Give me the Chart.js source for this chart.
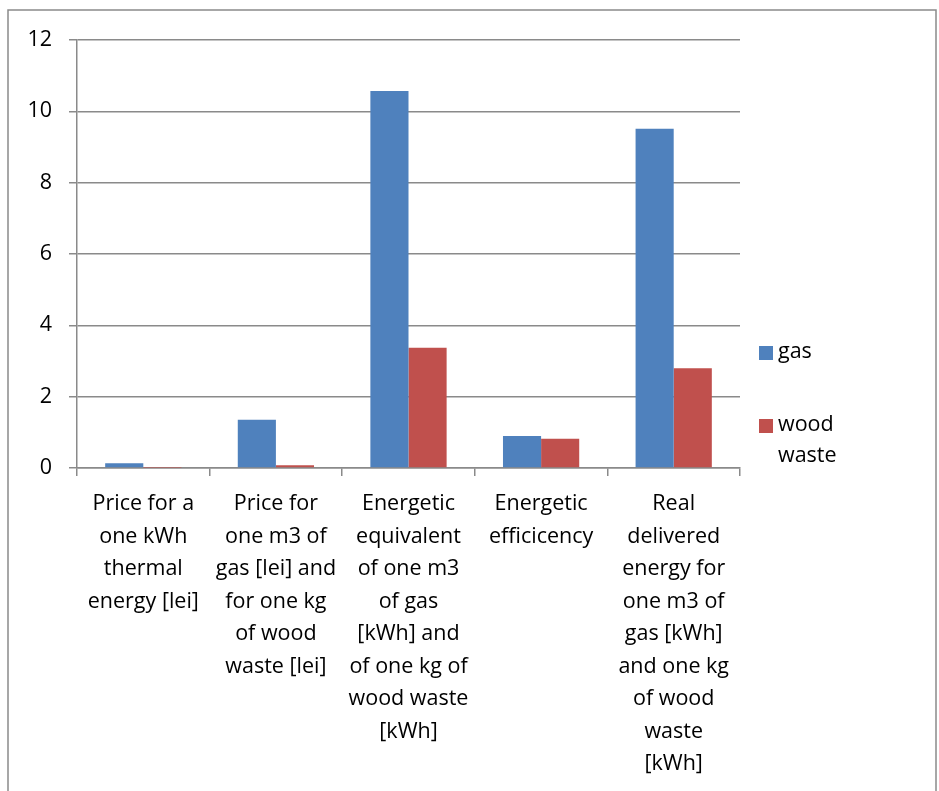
<!DOCTYPE html>
<html>
<head>
<meta charset="utf-8">
<script src="https://cdn.jsdelivr.net/npm/chart.js@4.4.0/dist/chart.umd.min.js"></script>
<style>
  html, body { margin: 0; padding: 0; background: #fff; }
  #wrap { width: 939px; height: 791px; position: relative; }
</style>
</head>
<body>
<div id="wrap"><canvas id="myChart" width="939" height="791"></canvas></div>
<script>
const categories = [
    ['Price for a', 'one kWh', 'thermal', 'energy [lei]'],
    ['Price for', 'one m3 of', 'gas [lei] and', 'for one kg', 'of wood', 'waste [lei]'],
    ['Energetic', 'equivalent', 'of one m3', 'of gas', '[kWh] and', 'of one kg of', 'wood waste', '[kWh]'],
    ['Energetic', 'efficicency'],
    ['Real', 'delivered', 'energy for', 'one m3 of', 'gas [kWh]', 'and one kg', 'of wood', 'waste', '[kWh]']
];
const gasValues = [0.13, 1.35, 10.57, 0.9, 9.51];
const woodValues = [0.01, 0.08, 3.37, 0.82, 2.8];
const yTicks = [0, 2, 4, 6, 8, 10, 12];

const FONT = "'Open Sans', sans-serif";
const FONT_SIZE = 21.5;
const gridColor = '#8a8a8a';

// frame + legend drawn by hand, like the original office chart
const framePlugin = {
    id: 'frame',
    afterDraw(chart) {
        const ctx = chart.ctx;
        const area = chart.chartArea;
        ctx.save();
        ctx.strokeStyle = '#8a8a8a';
        ctx.lineWidth = 1.5;
        ctx.strokeRect(8, 10, 928, 800);

        const items = [
            { color: '#4f81bd', lines: ['gas'], y: 352 },
            { color: '#c0504d', lines: ['wood', 'waste'], y: 425 }
        ];
        ctx.font = FONT_SIZE + 'px ' + FONT;
        ctx.textBaseline = 'middle';
        items.forEach((it) => {
            const x = area.right + 19;
            ctx.fillStyle = it.color;
            ctx.fillRect(x, it.y - 6, 14, 14);
            ctx.fillStyle = '#000';
            it.lines.forEach((t, i) => {
                ctx.fillText(t, x + 19, it.y + i * 31);
            });
        });
        ctx.restore();
    }
};

const ctx = document.getElementById('myChart').getContext('2d');
const myChart = new Chart(ctx, {
    type: 'bar',
    data: {
        labels: categories,
        datasets: [{
            label: 'gas',
            data: gasValues,
            backgroundColor: '#4f81bd',
            borderWidth: 0
        }, {
            label: 'wood waste',
            data: woodValues,
            backgroundColor: '#c0504d',
            borderWidth: 0
        }]
    },
    options: {
        responsive: false,
        animation: false,
        layout: {
            padding: { top: 40, right: 199, left: 0, bottom: 0 }
        },
        datasets: {
            bar: { categoryPercentage: 0.575, barPercentage: 1.0 }
        },
        plugins: {
            legend: { display: false },
            tooltip: { enabled: false }
        },
        scales: {
            x: {
                afterFit: (scale) => { scale.height = 323; },
                grid: {
                    drawOnChartArea: false,
                    drawTicks: true,
                    tickLength: 8,
                    color: gridColor,
                    lineWidth: 1.5,
                    offset: true
                },
                border: { display: true, color: gridColor, width: 1.5 },
                ticks: {
                    color: '#000',
                    font: { family: FONT, size: FONT_SIZE, lineHeight: 1.51 },
                    padding: 12,
                    maxRotation: 0,
                    autoSkip: false
                }
            },
            y: {
                min: 0,
                max: 12,
                afterFit: (scale) => { scale.width = 77; },
                afterBuildTicks: (scale) => {
                    scale.ticks = yTicks.map((v) => ({ value: v }));
                },
                grid: {
                    color: gridColor,
                    lineWidth: 1.5,
                    tickLength: 8
                },
                border: { display: true, color: gridColor, width: 1.5 },
                ticks: {
                    color: '#000',
                    font: { family: FONT, size: FONT_SIZE },
                    padding: 17
                }
            }
        }
    },
    plugins: [framePlugin]
});
</script>
</body>
</html>
